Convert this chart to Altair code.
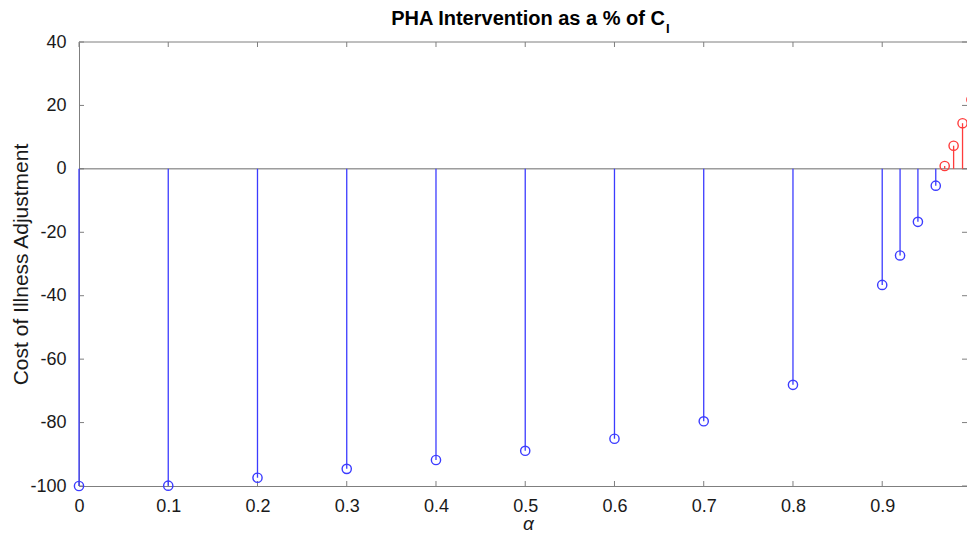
import altair as alt
import pandas as pd

# ---- data ----
alpha = [0.0, 0.1, 0.2, 0.3, 0.4, 0.5, 0.6, 0.7, 0.8, 0.9, 0.92, 0.94, 0.96, 0.97, 0.98, 0.99, 1.0]
adjustment = [-100.0, -99.9, -97.4, -94.6, -91.8, -88.9, -85.1, -79.6, -68.1,
              -36.6, -27.3, -16.7, -5.3, 0.9, 7.3, 14.4, 21.8]
x_ticks = [0, 0.1, 0.2, 0.3, 0.4, 0.5, 0.6, 0.7, 0.8, 0.9]
y_ticks = [-100, -80, -60, -40, -20, 0, 20, 40]
title_main = "PHA Intervention as a % of C"
title_sub = "I"
x_title = "α"
y_title = "Cost of Illness Adjustment"

# ---- layout constants ----
W, H = 888, 444
X_MAX = 0.995              # the reference axes are cut off just before alpha = 1
FONT = "Liberation Sans"
AXIS_GREY = "#7f7f7f"
TXT = "#1a1a1a"
BLUE = "#3c3cff"
RED = "#ff3c3c"

df = pd.DataFrame({"alpha": alpha, "adj": adjustment})
df["sign"] = ["pos" if v > 0 else "neg" for v in df["adj"]]

xscale = alt.Scale(domain=[0, X_MAX], nice=False, zero=False)
yscale = alt.Scale(domain=[-100, 40], nice=False)

x_axis = alt.Axis(values=x_ticks, labelExpr="'' + datum.value", ticks=False, grid=False,
                  domainColor=AXIS_GREY, domainWidth=1, labelFont=FONT, labelFontSize=18,
                  labelColor=TXT, labelPadding=11, labelFlush=False, labelOverlap=False,
                  title=x_title, titleFont=FONT, titleFontSize=19, titleFontWeight="normal",
                  titleFontStyle="italic", titleColor=TXT, titleX=449, titleY=43,
                  titleAlign="center", titleBaseline="alphabetic")
y_axis = alt.Axis(values=y_ticks, labelExpr="'' + datum.value", ticks=False, grid=False,
                  domainColor=AXIS_GREY, domainWidth=1, labelFont=FONT, labelFontSize=18,
                  labelColor=TXT, labelPadding=13, labelFlush=False, labelOverlap=False,
                  title=y_title, titleFont=FONT, titleFontSize=21, titleFontWeight="normal",
                  titleColor=TXT, titleAngle=270, titleX=-58, titleY=H / 2,
                  titleAlign="center", titleBaseline="middle")

color = alt.Color("sign:N", scale=alt.Scale(domain=["neg", "pos"], range=[BLUE, RED]),
                  legend=None)

X = alt.X("alpha:Q", scale=xscale, axis=x_axis)
Y = alt.Y("adj:Q", scale=yscale, axis=y_axis)

one = pd.DataFrame({"z": [0]})

top_border = alt.Chart(one).mark_rule(color=AXIS_GREY, strokeWidth=1).encode(
    x=alt.value(0), x2=alt.value(W), y=alt.value(0))

baseline = alt.Chart(one).mark_rule(color="#6a6a6a", strokeWidth=1).encode(
    y=alt.Y("z:Q", scale=yscale, axis=y_axis), x=alt.value(0), x2=alt.value(W))

stems = alt.Chart(df).mark_rule(strokeWidth=1.3).encode(
    x=X, y=Y, y2=alt.datum(0), color=color)

heads = alt.Chart(df).mark_point(shape="circle", filled=False, size=85, strokeWidth=1.4,
                                 opacity=1).encode(x=X, y=Y, color=color)

xt = pd.DataFrame({"tx": x_ticks})
yt = pd.DataFrame({"ty": y_ticks})
XT = alt.X("tx:Q", scale=xscale, axis=x_axis)
YT = alt.Y("ty:Q", scale=yscale, axis=y_axis)

tick_bottom = alt.Chart(xt).mark_rule(color=AXIS_GREY).encode(x=XT, y=alt.value(H), y2=alt.value(H - 5))
tick_top = alt.Chart(xt).mark_rule(color=AXIS_GREY).encode(x=XT, y=alt.value(0), y2=alt.value(5))
tick_left = alt.Chart(yt).mark_rule(color=AXIS_GREY).encode(y=YT, x=alt.value(0), x2=alt.value(5))
tick_right = alt.Chart(yt).mark_rule(color=AXIS_GREY).encode(y=YT, x=alt.value(W - 5), x2=alt.value(W))

t_df = pd.DataFrame({"t": [title_main]})
s_df = pd.DataFrame({"t": [title_sub]})
title_txt = alt.Chart(t_df).mark_text(font=FONT, fontSize=20, fontWeight="bold", color="#000000",
                                      align="center", baseline="alphabetic").encode(
    text="t:N", x=alt.value(449), y=alt.value(-17))
sub_txt = alt.Chart(s_df).mark_text(font=FONT, fontSize=13, fontWeight="bold", color="#000000",
                                    align="left", baseline="alphabetic").encode(
    text="t:N", x=alt.value(587), y=alt.value(-9))

chart = alt.layer(tick_bottom, tick_top, tick_left, tick_right, top_border, baseline,
                  stems, heads, title_txt, sub_txt).properties(
    width=W, height=H,
    autosize=alt.AutoSizeParams(type="none"),
    padding={"left": 71, "top": 34, "right": 0, "bottom": 47},
    background="white",
).configure_view(strokeWidth=0)

chart.save("out.html", embed_options={"renderer": "svg", "actions": False})
